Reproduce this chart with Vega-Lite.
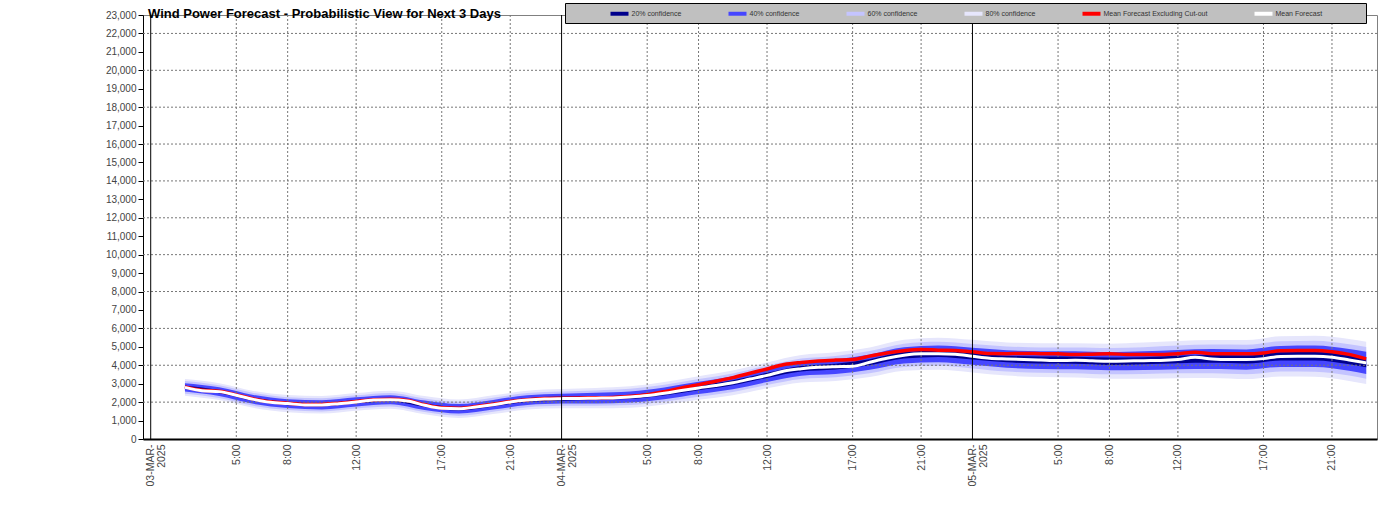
{
  "$schema": "https://vega.github.io/schema/vega-lite/v6.json",
  "width": 1234,
  "height": 424,
  "autosize": {"type": "none"},
  "padding": {"left": 143, "top": 15, "right": 16, "bottom": 74},
  "background": "white",
  "title": {
    "text": "Wind Power Forecast - Probabilistic View for Next 3 Days",
    "anchor": "start",
    "frame": "group",
    "dx": 5,
    "offset": -18,
    "fontSize": 13,
    "fontWeight": "bold",
    "color": "black",
    "font": "Liberation Sans"
  },
  "config": {
    "font": "Liberation Sans",
    "view": {"stroke": "#808080", "strokeWidth": 1},
    "axisX": {
      "domainColor": "black",
      "domainWidth": 2,
      "ticks": false,
      "labelAngle": 270,
      "labelAlign": "right",
      "labelBaseline": "middle",
      "labelFontSize": 10.5,
      "labelLineHeight": 11,
      "labelColor": "#444444",
      "labelPadding": 5,
      "labelOverlap": false,
      "labelFlush": false,
      "grid": false
    },
    "axisY": {
      "domainColor": "black",
      "domainWidth": 1,
      "tickColor": "black",
      "tickSize": 5,
      "labelFontSize": 10,
      "labelColor": "#444444",
      "labelPadding": 2,
      "labelOverlap": false,
      "labelFlush": false,
      "grid": false
    }
  },
  "datasets": {
    "days": [{"t": 0}, {"t": 24}, {"t": 48}],
    "vgrid": [{"t": 5}, {"t": 8}, {"t": 12}, {"t": 17}, {"t": 21}, {"t": 29}, {"t": 32}, {"t": 36}, {"t": 41}, {"t": 45}, {"t": 53}, {"t": 56}, {"t": 60}, {"t": 65}, {"t": 69}],
    "hgrid": [{"v": 2000}, {"v": 4000}, {"v": 6000}, {"v": 8000}, {"v": 10000}, {"v": 12000}, {"v": 14000}, {"v": 16000}, {"v": 18000}, {"v": 20000}, {"v": 22000}],
    "bands": [
      {"t": 2, "p10": 2350, "p20": 2460, "p30": 2570, "p40": 2710, "p60": 2890, "p70": 3030, "p80": 3140, "p90": 3250},
      {"t": 4, "p10": 2110, "p20": 2230, "p30": 2330, "p40": 2480, "p60": 2660, "p70": 2810, "p80": 2910, "p90": 3030},
      {"t": 6, "p10": 1690, "p20": 1800, "p30": 1910, "p40": 2060, "p60": 2240, "p70": 2390, "p80": 2500, "p90": 2610},
      {"t": 8, "p10": 1450, "p20": 1570, "p30": 1680, "p40": 1830, "p60": 2010, "p70": 2160, "p80": 2270, "p90": 2390},
      {"t": 10, "p10": 1380, "p20": 1490, "p30": 1600, "p40": 1760, "p60": 1940, "p70": 2100, "p80": 2210, "p90": 2330},
      {"t": 12, "p10": 1530, "p20": 1650, "p30": 1760, "p40": 1920, "p60": 2110, "p70": 2260, "p80": 2370, "p90": 2490},
      {"t": 14, "p10": 1640, "p20": 1760, "p30": 1880, "p40": 2030, "p60": 2230, "p70": 2380, "p80": 2500, "p90": 2620},
      {"t": 16, "p10": 1340, "p20": 1460, "p30": 1570, "p40": 1730, "p60": 1930, "p70": 2090, "p80": 2200, "p90": 2330},
      {"t": 18, "p10": 1140, "p20": 1260, "p30": 1380, "p40": 1540, "p60": 1740, "p70": 1900, "p80": 2020, "p90": 2140},
      {"t": 20, "p10": 1350, "p20": 1480, "p30": 1600, "p40": 1760, "p60": 1960, "p70": 2120, "p80": 2240, "p90": 2370},
      {"t": 22, "p10": 1600, "p20": 1720, "p30": 1840, "p40": 2010, "p60": 2210, "p70": 2380, "p80": 2500, "p90": 2620},
      {"t": 24, "p10": 1670, "p20": 1800, "p30": 1920, "p40": 2080, "p60": 2300, "p70": 2460, "p80": 2580, "p90": 2710},
      {"t": 26, "p10": 1670, "p20": 1810, "p30": 1930, "p40": 2120, "p60": 2320, "p70": 2510, "p80": 2630, "p90": 2770},
      {"t": 28, "p10": 1700, "p20": 1850, "p30": 1980, "p40": 2170, "p60": 2390, "p70": 2580, "p80": 2720, "p90": 2860},
      {"t": 30, "p10": 1870, "p20": 2020, "p30": 2160, "p40": 2360, "p60": 2600, "p70": 2800, "p80": 2940, "p90": 3090},
      {"t": 32, "p10": 2130, "p20": 2290, "p30": 2440, "p40": 2640, "p60": 2900, "p70": 3100, "p80": 3250, "p90": 3410},
      {"t": 34, "p10": 2380, "p20": 2550, "p30": 2700, "p40": 2910, "p60": 3190, "p70": 3400, "p80": 3550, "p90": 3720},
      {"t": 36, "p10": 2750, "p20": 2930, "p30": 3090, "p40": 3310, "p60": 3590, "p70": 3810, "p80": 3980, "p90": 4150},
      {"t": 38, "p10": 3070, "p20": 3260, "p30": 3430, "p40": 3660, "p60": 3960, "p70": 4190, "p80": 4360, "p90": 4550},
      {"t": 40, "p10": 3150, "p20": 3350, "p30": 3520, "p40": 3770, "p60": 4080, "p70": 4330, "p80": 4500, "p90": 4700},
      {"t": 42, "p10": 3360, "p20": 3560, "p30": 3750, "p40": 4000, "p60": 4330, "p70": 4590, "p80": 4770, "p90": 4970},
      {"t": 44, "p10": 3700, "p20": 3910, "p30": 4100, "p40": 4360, "p60": 4720, "p70": 4980, "p80": 5170, "p90": 5380},
      {"t": 46, "p10": 3750, "p20": 3970, "p30": 4170, "p40": 4450, "p60": 4790, "p70": 5070, "p80": 5270, "p90": 5490},
      {"t": 48, "p10": 3610, "p20": 3830, "p30": 4030, "p40": 4310, "p60": 4670, "p70": 4950, "p80": 5150, "p90": 5380},
      {"t": 50, "p10": 3440, "p20": 3660, "p30": 3870, "p40": 4160, "p60": 4520, "p70": 4810, "p80": 5020, "p90": 5240},
      {"t": 52, "p10": 3360, "p20": 3590, "p30": 3800, "p40": 4090, "p60": 4470, "p70": 4760, "p80": 4970, "p90": 5200},
      {"t": 54, "p10": 3340, "p20": 3570, "p30": 3780, "p40": 4080, "p60": 4460, "p70": 4760, "p80": 4970, "p90": 5200},
      {"t": 56, "p10": 3270, "p20": 3510, "p30": 3730, "p40": 4020, "p60": 4420, "p70": 4710, "p80": 4930, "p90": 5170},
      {"t": 58, "p10": 3270, "p20": 3520, "p30": 3740, "p40": 4060, "p60": 4440, "p70": 4760, "p80": 4980, "p90": 5230},
      {"t": 60, "p10": 3300, "p20": 3560, "p30": 3790, "p40": 4110, "p60": 4510, "p70": 4830, "p80": 5070, "p90": 5320},
      {"t": 62, "p10": 3310, "p20": 3560, "p30": 3800, "p40": 4130, "p60": 4550, "p70": 4880, "p80": 5120, "p90": 5370},
      {"t": 64, "p10": 3250, "p20": 3510, "p30": 3760, "p40": 4090, "p60": 4530, "p70": 4860, "p80": 5110, "p90": 5370},
      {"t": 66, "p10": 3390, "p20": 3660, "p30": 3910, "p40": 4260, "p60": 4710, "p70": 5050, "p80": 5300, "p90": 5570},
      {"t": 68, "p10": 3380, "p20": 3650, "p30": 3910, "p40": 4260, "p60": 4720, "p70": 5070, "p80": 5330, "p90": 5600},
      {"t": 70, "p10": 3150, "p20": 3440, "p30": 3700, "p40": 4050, "p60": 4530, "p70": 4880, "p80": 5140, "p90": 5430},
      {"t": 71, "p10": 2980, "p20": 3270, "p30": 3530, "p40": 3890, "p60": 4370, "p70": 4730, "p80": 4990, "p90": 5280}
    ],
    "lines": [
      {"t": 2, "mean": 2800, "mex": 2825}, {"t": 3, "mean": 2620, "mex": 2645}, {"t": 4, "mean": 2570, "mex": 2595},
      {"t": 5, "mean": 2370, "mex": 2395}, {"t": 6, "mean": 2150, "mex": 2175}, {"t": 7, "mean": 1990, "mex": 2015},
      {"t": 8, "mean": 1920, "mex": 1945}, {"t": 9, "mean": 1850, "mex": 1875}, {"t": 10, "mean": 1850, "mex": 1875},
      {"t": 11, "mean": 1915, "mex": 1940}, {"t": 12, "mean": 2010, "mex": 2035}, {"t": 13, "mean": 2110, "mex": 2135},
      {"t": 14, "mean": 2130, "mex": 2155}, {"t": 15, "mean": 2060, "mex": 2085}, {"t": 16, "mean": 1830, "mex": 1855},
      {"t": 17, "mean": 1665, "mex": 1690}, {"t": 18, "mean": 1640, "mex": 1665}, {"t": 19, "mean": 1740, "mex": 1765},
      {"t": 20, "mean": 1860, "mex": 1885}, {"t": 21, "mean": 2010, "mex": 2035}, {"t": 22, "mean": 2110, "mex": 2135},
      {"t": 23, "mean": 2170, "mex": 2195}, {"t": 24, "mean": 2190, "mex": 2215}, {"t": 25, "mean": 2200, "mex": 2225},
      {"t": 26, "mean": 2215, "mex": 2240}, {"t": 27, "mean": 2230, "mex": 2255}, {"t": 28, "mean": 2280, "mex": 2315},
      {"t": 29, "mean": 2355, "mex": 2405}, {"t": 30, "mean": 2480, "mex": 2570}, {"t": 31, "mean": 2630, "mex": 2770},
      {"t": 32, "mean": 2770, "mex": 2950}, {"t": 33, "mean": 2900, "mex": 3130}, {"t": 34, "mean": 3050, "mex": 3330},
      {"t": 35, "mean": 3250, "mex": 3570}, {"t": 36, "mean": 3450, "mex": 3800}, {"t": 37, "mean": 3690, "mex": 4040},
      {"t": 38, "mean": 3810, "mex": 4155}, {"t": 39, "mean": 3890, "mex": 4235}, {"t": 40, "mean": 3925, "mex": 4280},
      {"t": 41, "mean": 3945, "mex": 4310}, {"t": 42, "mean": 4165, "mex": 4495}, {"t": 43, "mean": 4380, "mex": 4670},
      {"t": 44, "mean": 4540, "mex": 4790}, {"t": 45, "mean": 4620, "mex": 4855}, {"t": 46, "mean": 4620, "mex": 4820},
      {"t": 47, "mean": 4600, "mex": 4800}, {"t": 48, "mean": 4490, "mex": 4730}, {"t": 49, "mean": 4380, "mex": 4635},
      {"t": 50, "mean": 4340, "mex": 4630}, {"t": 51, "mean": 4310, "mex": 4640}, {"t": 52, "mean": 4280, "mex": 4630},
      {"t": 53, "mean": 4255, "mex": 4620}, {"t": 54, "mean": 4270, "mex": 4580}, {"t": 55, "mean": 4240, "mex": 4600},
      {"t": 56, "mean": 4220, "mex": 4620}, {"t": 57, "mean": 4230, "mex": 4590}, {"t": 58, "mean": 4250, "mex": 4580},
      {"t": 59, "mean": 4260, "mex": 4580}, {"t": 60, "mean": 4310, "mex": 4620}, {"t": 61, "mean": 4430, "mex": 4705},
      {"t": 62, "mean": 4340, "mex": 4630}, {"t": 63, "mean": 4310, "mex": 4620}, {"t": 64, "mean": 4310, "mex": 4620},
      {"t": 65, "mean": 4360, "mex": 4670}, {"t": 66, "mean": 4480, "mex": 4790}, {"t": 67, "mean": 4490, "mex": 4800},
      {"t": 68, "mean": 4490, "mex": 4800}, {"t": 69, "mean": 4440, "mex": 4735}, {"t": 70, "mean": 4290, "mex": 4590},
      {"t": 71, "mean": 4130, "mex": 4350}
    ]
  },
  "layer": [
    {
      "data": {"name": "bands"},
      "mark": {"type": "area", "interpolate": "monotone", "opacity": 1},
      "encoding": {
        "x": {"field": "t", "type": "quantitative", "scale": {"domain": [-0.45, 71.63], "nice": false, "zero": false}, "axis": {"title": null, "grid": false, "values": [0, 5, 8, 12, 17, 21, 24, 29, 32, 36, 41, 45, 48, 53, 56, 60, 65, 69], "labelExpr": "datum.value == 0 ? ['03-MAR-', '2025'] : datum.value == 24 ? ['04-MAR-', '2025'] : datum.value == 48 ? ['05-MAR-', '2025'] : (datum.value % 24) + ':00'"}},
        "y": {"field": "p10", "type": "quantitative", "scale": {"domain": [0, 23000], "nice": false}, "axis": {"title": null, "grid": false, "values": [0, 1000, 2000, 3000, 4000, 5000, 6000, 7000, 8000, 9000, 10000, 11000, 12000, 13000, 14000, 15000, 16000, 17000, 18000, 19000, 20000, 21000, 22000, 23000], "format": ",.0f"}},
        "y2": {"field": "p90"},
        "color": {
          "datum": "80% confidence",
          "type": "nominal",
          "scale": {
            "domain": ["20% confidence", "40% confidence", "60% confidence", "80% confidence", "Mean Forecast Excluding Cut-out", "Mean Forecast"],
            "range": ["#00008c", "#4646ff", "#c4c4ff", "#e6e6fc", "#ff0000", "#ffffff"]
          },
          "legend": {
            "orient": "none",
            "legendX": 422,
            "legendY": -12,
            "direction": "horizontal",
            "columns": 6,
            "title": "\u200b                     \u200b",
            "titleOrient": "left",
            "titleFontSize": 7,
            "titlePadding": 3,
            "fillColor": "#c0c0c0",
            "strokeColor": "#000000",
            "padding": 6,
            "columnPadding": 46,
            "symbolType": "M-2,-0.44H2V0.44H-2Z",
            "symbolSize": 81,
            "symbolStrokeWidth": 0,
            "symbolOpacity": 1,
            "labelFontSize": 7,
            "labelColor": "#333333",
            "labelOffset": 7.5,
            "labelExpr": "datum.label == 'Mean Forecast' ? 'Mean Forecast                   \u200b' : datum.label"
          }
        }
      }
    },
    {
      "data": {"name": "bands"},
      "mark": {"type": "area", "interpolate": "monotone", "opacity": 1},
      "encoding": {
        "x": {"field": "t", "type": "quantitative", "scale": {"domain": [-0.45, 71.63], "nice": false, "zero": false}, "axis": {"title": null, "grid": false, "values": [0, 5, 8, 12, 17, 21, 24, 29, 32, 36, 41, 45, 48, 53, 56, 60, 65, 69], "labelExpr": "datum.value == 0 ? ['03-MAR-', '2025'] : datum.value == 24 ? ['04-MAR-', '2025'] : datum.value == 48 ? ['05-MAR-', '2025'] : (datum.value % 24) + ':00'"}},
        "y": {"field": "p20", "type": "quantitative", "scale": {"domain": [0, 23000], "nice": false}, "axis": {"title": null, "grid": false, "values": [0, 1000, 2000, 3000, 4000, 5000, 6000, 7000, 8000, 9000, 10000, 11000, 12000, 13000, 14000, 15000, 16000, 17000, 18000, 19000, 20000, 21000, 22000, 23000], "format": ",.0f"}},
        "y2": {"field": "p80"},
        "color": {"datum": "60% confidence", "type": "nominal"}
      }
    },
    {
      "data": {"name": "bands"},
      "mark": {"type": "area", "interpolate": "monotone", "opacity": 1},
      "encoding": {
        "x": {"field": "t", "type": "quantitative", "scale": {"domain": [-0.45, 71.63], "nice": false, "zero": false}, "axis": {"title": null, "grid": false, "values": [0, 5, 8, 12, 17, 21, 24, 29, 32, 36, 41, 45, 48, 53, 56, 60, 65, 69], "labelExpr": "datum.value == 0 ? ['03-MAR-', '2025'] : datum.value == 24 ? ['04-MAR-', '2025'] : datum.value == 48 ? ['05-MAR-', '2025'] : (datum.value % 24) + ':00'"}},
        "y": {"field": "p30", "type": "quantitative", "scale": {"domain": [0, 23000], "nice": false}, "axis": {"title": null, "grid": false, "values": [0, 1000, 2000, 3000, 4000, 5000, 6000, 7000, 8000, 9000, 10000, 11000, 12000, 13000, 14000, 15000, 16000, 17000, 18000, 19000, 20000, 21000, 22000, 23000], "format": ",.0f"}},
        "y2": {"field": "p70"},
        "color": {"datum": "40% confidence", "type": "nominal"}
      }
    },
    {
      "data": {"name": "bands"},
      "mark": {"type": "area", "interpolate": "monotone", "opacity": 1},
      "encoding": {
        "x": {"field": "t", "type": "quantitative", "scale": {"domain": [-0.45, 71.63], "nice": false, "zero": false}, "axis": {"title": null, "grid": false, "values": [0, 5, 8, 12, 17, 21, 24, 29, 32, 36, 41, 45, 48, 53, 56, 60, 65, 69], "labelExpr": "datum.value == 0 ? ['03-MAR-', '2025'] : datum.value == 24 ? ['04-MAR-', '2025'] : datum.value == 48 ? ['05-MAR-', '2025'] : (datum.value % 24) + ':00'"}},
        "y": {"field": "p40", "type": "quantitative", "scale": {"domain": [0, 23000], "nice": false}, "axis": {"title": null, "grid": false, "values": [0, 1000, 2000, 3000, 4000, 5000, 6000, 7000, 8000, 9000, 10000, 11000, 12000, 13000, 14000, 15000, 16000, 17000, 18000, 19000, 20000, 21000, 22000, 23000], "format": ",.0f"}},
        "y2": {"field": "p60"},
        "color": {"datum": "20% confidence", "type": "nominal"}
      }
    },
    {
      "data": {"name": "hgrid"},
      "mark": {"type": "rule", "color": "#777777", "strokeWidth": 1, "strokeDash": [2, 2]},
      "encoding": {
        "y": {"field": "v", "type": "quantitative", "scale": {"domain": [0, 23000], "nice": false}, "axis": {"title": null, "grid": false, "values": [0, 1000, 2000, 3000, 4000, 5000, 6000, 7000, 8000, 9000, 10000, 11000, 12000, 13000, 14000, 15000, 16000, 17000, 18000, 19000, 20000, 21000, 22000, 23000], "format": ",.0f"}}
      }
    },
    {
      "data": {"name": "vgrid"},
      "mark": {"type": "rule", "color": "#777777", "strokeWidth": 1, "strokeDash": [2, 2]},
      "encoding": {
        "x": {"field": "t", "type": "quantitative", "scale": {"domain": [-0.45, 71.63], "nice": false, "zero": false}, "axis": {"title": null, "grid": false, "values": [0, 5, 8, 12, 17, 21, 24, 29, 32, 36, 41, 45, 48, 53, 56, 60, 65, 69], "labelExpr": "datum.value == 0 ? ['03-MAR-', '2025'] : datum.value == 24 ? ['04-MAR-', '2025'] : datum.value == 48 ? ['05-MAR-', '2025'] : (datum.value % 24) + ':00'"}}
      }
    },
    {
      "data": {"name": "lines"},
      "mark": {"type": "line", "interpolate": "monotone", "color": "#ff0000", "strokeWidth": 3.5},
      "encoding": {
        "x": {"field": "t", "type": "quantitative", "scale": {"domain": [-0.45, 71.63], "nice": false, "zero": false}, "axis": {"title": null, "grid": false, "values": [0, 5, 8, 12, 17, 21, 24, 29, 32, 36, 41, 45, 48, 53, 56, 60, 65, 69], "labelExpr": "datum.value == 0 ? ['03-MAR-', '2025'] : datum.value == 24 ? ['04-MAR-', '2025'] : datum.value == 48 ? ['05-MAR-', '2025'] : (datum.value % 24) + ':00'"}},
        "y": {"field": "mex", "type": "quantitative", "scale": {"domain": [0, 23000], "nice": false}, "axis": {"title": null, "grid": false, "values": [0, 1000, 2000, 3000, 4000, 5000, 6000, 7000, 8000, 9000, 10000, 11000, 12000, 13000, 14000, 15000, 16000, 17000, 18000, 19000, 20000, 21000, 22000, 23000], "format": ",.0f"}}
      }
    },
    {
      "data": {"name": "lines"},
      "mark": {"type": "line", "interpolate": "monotone", "color": "#ffffff", "strokeWidth": 3},
      "encoding": {
        "x": {"field": "t", "type": "quantitative", "scale": {"domain": [-0.45, 71.63], "nice": false, "zero": false}, "axis": {"title": null, "grid": false, "values": [0, 5, 8, 12, 17, 21, 24, 29, 32, 36, 41, 45, 48, 53, 56, 60, 65, 69], "labelExpr": "datum.value == 0 ? ['03-MAR-', '2025'] : datum.value == 24 ? ['04-MAR-', '2025'] : datum.value == 48 ? ['05-MAR-', '2025'] : (datum.value % 24) + ':00'"}},
        "y": {"field": "mean", "type": "quantitative", "scale": {"domain": [0, 23000], "nice": false}, "axis": {"title": null, "grid": false, "values": [0, 1000, 2000, 3000, 4000, 5000, 6000, 7000, 8000, 9000, 10000, 11000, 12000, 13000, 14000, 15000, 16000, 17000, 18000, 19000, 20000, 21000, 22000, 23000], "format": ",.0f"}}
      }
    },
    {
      "data": {"name": "days"},
      "mark": {"type": "rule", "color": "black", "strokeWidth": 1},
      "encoding": {
        "x": {"field": "t", "type": "quantitative", "scale": {"domain": [-0.45, 71.63], "nice": false, "zero": false}, "axis": {"title": null, "grid": false, "values": [0, 5, 8, 12, 17, 21, 24, 29, 32, 36, 41, 45, 48, 53, 56, 60, 65, 69], "labelExpr": "datum.value == 0 ? ['03-MAR-', '2025'] : datum.value == 24 ? ['04-MAR-', '2025'] : datum.value == 48 ? ['05-MAR-', '2025'] : (datum.value % 24) + ':00'"}}
      }
    }
  ]
}
